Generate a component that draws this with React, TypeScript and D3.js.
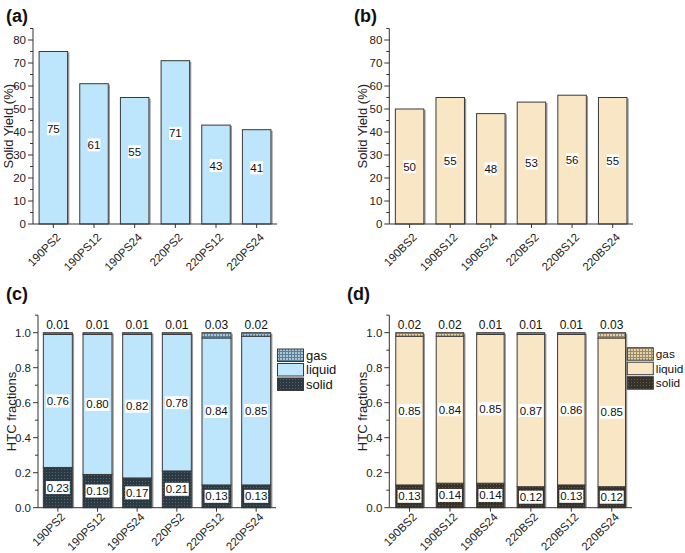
import React from 'react';
import * as d3 from 'd3';

const psCategories = ['190PS2', '190PS12', '190PS24', '220PS2', '220PS12', '220PS24'];
const bsCategories = ['190BS2', '190BS12', '190BS24', '220BS2', '220BS12', '220BS24'];
const psYield = [75, 61, 55, 71, 43, 41];
const bsYield = [50, 55, 48, 53, 56, 55];
const psSolid = [0.23, 0.19, 0.17, 0.21, 0.13, 0.13];
const psLiquid = [0.76, 0.80, 0.82, 0.78, 0.84, 0.85];
const psGas = [0.01, 0.01, 0.01, 0.01, 0.03, 0.02];
const bsSolid = [0.13, 0.14, 0.14, 0.12, 0.13, 0.12];
const bsLiquid = [0.85, 0.84, 0.85, 0.87, 0.86, 0.85];
const bsGas = [0.02, 0.02, 0.01, 0.01, 0.01, 0.03];
const yieldTicks = [0, 10, 20, 30, 40, 50, 60, 70, 80];
const yieldMinor = [5, 15, 25, 35, 45, 55, 65, 75, 85];
const fracTicks = [0, 0.2, 0.4, 0.6, 0.8, 1.0];
const fracMinor = [0.1, 0.3, 0.5, 0.7, 0.9, 1.1];
const seriesKeys = ['solid', 'liquid', 'gas'];
const legendNames = ['gas', 'liquid', 'solid'];

const FONT = '"Liberation Sans", Arial, sans-serif';
const AX = '#333';

function Axes({ x0, x1, y, cats, xScale, ticks, minor, fmt, yBottom, yTop, title, titleX, labelDy }: any) {
  const yMid = (yBottom + yTop) / 2;
  return (
    <g fontFamily={FONT}>
      <line x1={x0} x2={x0} y1={yTop} y2={yBottom} stroke={AX} strokeWidth={1} />
      <line x1={x0} x2={x1} y1={yBottom} y2={yBottom} stroke={AX} strokeWidth={1} />
      {ticks.map((t: number) => (
        <g key={'t' + t}>
          <line x1={x0 - 5} x2={x0} y1={y(t)} y2={y(t)} stroke={AX} />
          <text x={x0 - 7} y={y(t) + 4} textAnchor="end" fontSize={11.5} fill="#222">{fmt(t)}</text>
        </g>
      ))}
      {minor.map((t: number) => (
        <line key={'m' + t} x1={x0 - 3} x2={x0} y1={y(t)} y2={y(t)} stroke={AX} />
      ))}
      {cats.map((c: string) => {
        const cx = (xScale(c) as number) + xScale.bandwidth() / 2;
        return (
          <g key={c}>
            <line x1={cx} x2={cx} y1={yBottom} y2={yBottom + 4} stroke={AX} />
            <text transform={`translate(${cx + 8},${yBottom + labelDy}) rotate(-45)`} textAnchor="end" fontSize={11.5} fill="#222">{c}</text>
          </g>
        );
      })}
      <text transform={`translate(${titleX},${yMid}) rotate(-90)`} textAnchor="middle" fontSize={13} fill="#222">{title}</text>
    </g>
  );
}

function ValueLabel({ x, y, text }: any) {
  const w = text.length * 5.6 + 1.5;
  return (
    <g>
      <rect x={x - w / 2} y={y - 6.5} width={w} height={13} fill="#fff" />
      <text x={x} y={y + 4} textAnchor="middle" fontSize={11.5} fontFamily={FONT} fill="#111">{text}</text>
    </g>
  );
}

function YieldPanel({ x0, x1, cats, values, fill, labelOffset, letter, letterX, titleX }: any) {
  const yBottom = 224;
  const y = d3.scaleLinear().domain([0, 80]).range([yBottom, 40]);
  const xScale = d3.scaleBand().domain(cats).range([x0, x1]).padding(0);
  const bw = 28.5;
  return (
    <g>
      <text x={letterX} y={22} fontSize={18} fontWeight="bold" fontFamily={FONT} fill="#111">{letter}</text>
      {cats.map((c: string, i: number) => {
        const cx = (xScale(c) as number) + xScale.bandwidth() / 2;
        const top = y(values[i]);
        return (
          <g key={c}>
            <line x1={cx + bw / 2 + 1} x2={cx + bw / 2 + 1} y1={top + 1} y2={yBottom} stroke="#9a9a9a" strokeWidth={1.5} />
            <rect x={cx - bw / 2} y={top} width={bw} height={yBottom - top} fill={fill} stroke="#3a3a3a" strokeWidth={1} />
          </g>
        );
      })}
      <Axes x0={x0} x1={x1} y={y} cats={cats} xScale={xScale} ticks={yieldTicks} minor={yieldMinor} fmt={(t: number) => String(t)} yBottom={yBottom} yTop={y(85)} title="Solid Yield (%)" titleX={titleX} labelDy={14} />
      {cats.map((c: string, i: number) => {
        const cx = (xScale(c) as number) + xScale.bandwidth() / 2;
        return <ValueLabel key={'l' + c} x={cx} y={y(values[i] / 2) + labelOffset} text={String(values[i])} />;
      })}
    </g>
  );
}

function FractionPanel({ x0, x1, cats, solid, liquid, gas, liquidFill, solidPat, gasPat, letter, letterX, titleX, legendX, legendY, legendFont, bw }: any) {
  const yBottom = 507.7;
  const y = d3.scaleLinear().domain([0, 1]).range([yBottom, 332.7]);
  const xScale = d3.scaleBand().domain(cats).range([x0, x1]).padding(0);
  const rows = cats.map((c: string, i: number) => ({ cat: c, solid: solid[i], liquid: liquid[i], gas: gas[i] }));
  const stacked = d3.stack<any>().keys(seriesKeys)(rows);
  const fills: any = { solid: `url(#${solidPat})`, liquid: liquidFill, gas: `url(#${gasPat})` };
  const fmt2 = (v: number) => v.toFixed(2);
  return (
    <g>
      <text x={letterX} y={300} fontSize={18} fontWeight="bold" fontFamily={FONT} fill="#111">{letter}</text>
      {cats.map((c: string, i: number) => {
        const cx = (xScale(c) as number) + xScale.bandwidth() / 2;
        return <line key={'s' + c} x1={cx + bw / 2 + 1} x2={cx + bw / 2 + 1} y1={y(1) + 1} y2={yBottom} stroke="#9a9a9a" strokeWidth={1.5} />;
      })}
      {stacked.map((s: any) => (
        <g key={s.key}>
          {s.map((d: any) => {
            const cx = (xScale(d.data.cat) as number) + xScale.bandwidth() / 2;
            return <rect key={d.data.cat} x={cx - bw / 2} y={y(d[1])} width={bw} height={y(d[0]) - y(d[1])} fill={fills[s.key]} stroke="#3a3a3a" strokeWidth={1} />;
          })}
        </g>
      ))}
      <Axes x0={x0} x1={x1} y={y} cats={cats} xScale={xScale} ticks={fracTicks} minor={fracMinor} fmt={(t: number) => t.toFixed(1)} yBottom={yBottom} yTop={y(1.1)} title="HTC fractions" titleX={titleX} labelDy={10} />
      {stacked.map((s: any) => (
        <g key={'lab' + s.key}>
          {s.map((d: any) => {
            const cx = (xScale(d.data.cat) as number) + xScale.bandwidth() / 2;
            const v = d.data[s.key];
            if (s.key === 'gas') {
              return <text key={d.data.cat} x={cx} y={y(d[1]) - 4} textAnchor="middle" fontSize={12} fontFamily={FONT} fill="#111">{fmt2(v)}</text>;
            }
            return <ValueLabel key={d.data.cat} x={cx} y={y((d[0] + d[1]) / 2)} text={fmt2(v)} />;
          })}
        </g>
      ))}
      {legendNames.map((n: string, i: number) => {
        const ly = legendY + i * 14.5;
        return (
          <g key={n}>
            <rect x={legendX} y={ly} width={26} height={12.5} fill={fills[n]} stroke="#3a3a3a" strokeWidth={1} />
            <text x={legendX + 28.5} y={ly + 10.5} fontSize={legendFont} fontFamily={FONT} fill="#111">{n}</text>
          </g>
        );
      })}
    </g>
  );
}

export default function App() {
  return (
    <svg width={685} height={553} style={{ position: 'absolute', left: 0, top: 0, background: '#fff' }}>
      <defs>
        <pattern id="solidBlue" width={3} height={3} patternUnits="userSpaceOnUse">
          <rect width={3} height={3} fill="#2b3a42" />
          <rect x={1} y={1} width={1} height={1} fill="#56666f" />
        </pattern>
        <pattern id="solidTan" width={3} height={3} patternUnits="userSpaceOnUse">
          <rect width={3} height={3} fill="#36322a" />
          <rect x={1} y={1} width={1} height={1} fill="#655e4c" />
        </pattern>
        <pattern id="gasBlue" width={3} height={3} patternUnits="userSpaceOnUse">
          <rect width={3} height={3} fill="#a9c6d8" />
          <rect x={0} y={0} width={3} height={1} fill="#5d7f95" />
          <rect x={0} y={0} width={1} height={3} fill="#5d7f95" />
        </pattern>
        <pattern id="gasTan" width={3} height={3} patternUnits="userSpaceOnUse">
          <rect width={3} height={3} fill="#e2d3b0" />
          <rect x={0} y={0} width={3} height={1} fill="#9c8a66" />
          <rect x={0} y={0} width={1} height={3} fill="#9c8a66" />
        </pattern>
      </defs>
      <rect width={685} height={553} fill="#fff" />
      <YieldPanel x0={33} x1={277} cats={psCategories} values={psYield} fill="#bde5fb" labelOffset={-9} letter="(a)" letterX={6} titleX={13} />
      <YieldPanel x0={389.3} x1={633} cats={bsCategories} values={bsYield} fill="#f8e6c5" labelOffset={0} letter="(b)" letterX={354} titleX={367} />
      <FractionPanel x0={38} x1={276} cats={psCategories} solid={psSolid} liquid={psLiquid} gas={psGas} liquidFill="#bde5fb" solidPat="solidBlue" gasPat="gasBlue" letter="(c)" letterX={6} titleX={16} legendX={277.5} legendY={349} legendFont={13} bw={29} />
      <FractionPanel x0={389.3} x1={632} cats={bsCategories} solid={bsSolid} liquid={bsLiquid} gas={bsGas} liquidFill="#f8e6c5" solidPat="solidTan" gasPat="gasTan" letter="(d)" letterX={347} titleX={367} legendX={627.3} legendY={347.7} legendFont={11.8} bw={27.5} />
    </svg>
  );
}
